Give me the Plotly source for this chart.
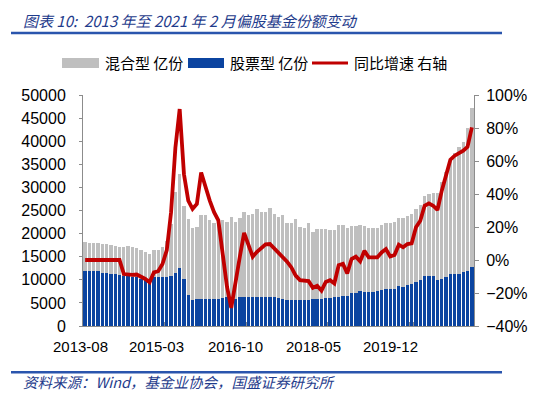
import plotly.graph_objects as go

# ---- data ----
months = []
_y, _m = 2013, 8
for _ in range(91):
    months.append(f"{_y}-{_m:02d}")
    _m += 1
    if _m > 12:
        _m = 1
        _y += 1

tick_labels = ["2013-08", "2015-03", "2016-10", "2018-05", "2019-12"]

# 股票型 份额 (亿份)
stock_shares = [
    11900, 11900, 11850, 11850, 11550, 11550, 11350, 11150, 11000, 10850,
    10850, 10650, 10500, 10250, 9900, 9650, 10600, 10600, 10600, 10700,
    10850, 11450, 12650, 10270, 6650, 5720, 5930, 5930, 5930, 5860,
    5860, 5930, 6070, 6280, 5930, 5930, 6300, 6300, 6300, 6280,
    6330, 6300, 6280, 6280, 6280, 6070, 5930, 5720, 5720, 5720,
    5570, 5570, 5720, 5790, 5930, 5930, 6070, 6150, 6280, 6370,
    6440, 6500, 7150, 7230, 7500, 7360, 7360, 7360, 7520, 7890,
    8030, 8030, 8030, 8600, 8450, 8820, 9180, 9470, 9900, 10920,
    10920, 10850, 10050, 10270, 10700, 11270, 11200, 11350, 11700, 11850,
    12870,
]

# 混合型 份额 (亿份)
mixed_shares = [
    6300, 6150, 6150, 6150, 6200, 6200, 6100, 6100, 6100, 6250,
    6400, 6450, 6300, 6150, 6100, 6000, 5800, 5800, 6500, 7600,
    11250, 17550, 20350, 15730, 16450, 15580, 15570, 18070, 18070, 17040,
    16540, 16770, 16830, 16260, 17560, 16610, 16970, 18400, 17690, 18070,
    18890, 18270, 18290, 19160, 17920, 17550, 18060, 16680, 16470, 17340,
    15880, 15750, 16470, 14580, 14960, 14960, 14820, 14590, 14460, 15450,
    15380, 14820, 14450, 14370, 14390, 14240, 13880, 13880, 13800, 14000,
    14160, 14370, 14510, 14670, 14820, 15020, 15020, 15960, 16250, 17190,
    17620, 17970, 18640, 20930, 22670, 24790, 26290, 27310, 28040, 30930,
    34240,
]

# 同比增速 (%)
yoy_growth = [
    0, 0, 0, 0, 0, 0, 0, 0, 0, -8.5,
    -9, -9, -8.8, -10, -11.5, -13.5, -7.5, -6.8, -2.4, 6,
    29, 68, 91.5, 52, 36, 31, 34, 53, 44, 36,
    29, 24, 4, -16, -29, -12, 2, 16.5, 10, 2,
    5, 7.5, 9.5, 9.7, 7, 4.6, 2, -1, -4.5, -9.5,
    -12.2, -12.5, -12.8, -16.8, -15.6, -18.5, -13.3, -12.2, -14.2, -3.2,
    -2.3, -8.1, 0.6, 2, -0.8, 5.6, 1.6, 1.6, 1.6, 4.6,
    6.6, 2.2, 3, 9.3, 7.7, 9.7, 10.1, 19.8, 23.8, 32.9,
    34.3, 32.9, 30.3, 42, 52.1, 60.8, 63.2, 64.6, 66.2, 68.6,
    80.4,
]
yoy_frac = [v / 100 for v in yoy_growth]

# ---- styling ----
OFF = 8                      # page body margin of the browser
W, H = 550 - OFF, 397 - OFF
# plot area in window pixels: left 83, right 474, top 95, bottom 325.7
L = 83 - OFF
T = 95 - OFF
R = W - (474 - OFF)
B = H - (325.7 - OFF)
PW, PH = W - L - R, H - T - B
GRAY = "#BFBFBF"
BLUE = "#0B44A0"
RED = "#C00000"
AX = "#8C8C8C"
TITLE_BLUE = "#1F3C8C"
RULE_BLUE = "#2A55AD"
CJK = "Noto Sans CJK SC, Liberation Sans, sans-serif"
NUM = "Liberation Sans, Arial, sans-serif"


def px(x):
    """window pixel x -> paper x"""
    return (x - OFF - L) / PW


def py(y):
    """window pixel y -> paper y"""
    return (H - B - (y - OFF)) / PH


fig = go.Figure()
fig.add_trace(go.Bar(x=months, y=stock_shares, name="股票型 亿份",
                     marker=dict(color=BLUE, line=dict(width=0)), showlegend=False))
fig.add_trace(go.Bar(x=months, y=mixed_shares, name="混合型 亿份",
                     marker=dict(color=GRAY, line=dict(width=0)), showlegend=False))
fig.add_trace(go.Scatter(x=months, y=yoy_frac, name="同比增速 右轴", yaxis="y2",
                         mode="lines", line=dict(color=RED, width=3.8),
                         showlegend=False))

annotations = []
shapes = []

# x tick labels (placed where the reference shows them)
label_px = [80, 156.7, 235, 313, 390]
for lab, xx in zip(tick_labels, label_px):
    annotations.append(dict(x=px(xx), y=py(346), xref="paper", yref="paper", text=lab,
                            showarrow=False, xanchor="center", yanchor="middle",
                            font=dict(family=NUM, size=15, color="#000")))

# title & footer
annotations.append(dict(x=px(21), y=py(8.5), xref="paper", yref="paper",
                        text="<i>图表 10:  2013 年至 2021 年 2 月偏股基金份额变动</i>",
                        showarrow=False, xanchor="left", yanchor="top",
                        font=dict(family=CJK, size=15, color=TITLE_BLUE)))
annotations.append(dict(x=px(21), y=py(381), xref="paper", yref="paper",
                        text="<i>资料来源：Wind，基金业协会，国盛证券研究所</i>",
                        showarrow=False, xanchor="left", yanchor="middle",
                        font=dict(family=CJK, size=14.5, color=TITLE_BLUE)))

# horizontal rules
for yy in (33, 372):
    shapes.append(dict(type="line", xref="paper", yref="paper",
                       x0=px(11), x1=px(502), y0=py(yy), y1=py(yy),
                       line=dict(color=RULE_BLUE, width=2.5)))

# manual legend
shapes.append(dict(type="rect", xref="paper", yref="paper", x0=px(62), x1=px(99),
                   y0=py(68), y1=py(58), fillcolor=GRAY, line=dict(width=0)))
shapes.append(dict(type="rect", xref="paper", yref="paper", x0=px(188), x1=px(224),
                   y0=py(68), y1=py(58), fillcolor=BLUE, line=dict(width=0)))
shapes.append(dict(type="line", xref="paper", yref="paper", x0=px(312), x1=px(348),
                   y0=py(63), y1=py(63), line=dict(color=RED, width=3)))
for txt, x0 in (("混合型 亿份", 103), ("股票型 亿份", 228), ("同比增速 右轴", 352)):
    annotations.append(dict(x=px(x0), y=py(63), xref="paper", yref="paper", text=txt,
                            showarrow=False, xanchor="left", yanchor="middle",
                            font=dict(family=CJK, size=15, color="#000")))

fig.update_layout(
    width=W, height=H,
    margin=dict(l=L, r=R, t=T, b=B, autoexpand=False),
    paper_bgcolor="white", plot_bgcolor="white",
    barmode="stack", bargap=0.22,
    showlegend=False,
    xaxis=dict(type="category", tickmode="array", tickvals=tick_labels,
               showticklabels=False, tickson="boundaries", ticks="inside",
               ticklen=4, tickcolor=AX, showline=True, linecolor=AX, linewidth=1,
               showgrid=False, zeroline=False, range=[-0.5, 90.5]),
    yaxis=dict(range=[0, 50000], dtick=5000, tick0=0, showgrid=False, zeroline=False,
               showline=True, linecolor=AX, linewidth=1, ticks="outside", ticklen=3,
               tickcolor=AX, tickformat="d", ticklabelstandoff=10,
               tickfont=dict(family=NUM, size=16, color="#000")),
    yaxis2=dict(overlaying="y", side="right", range=[-0.4, 1.0], dtick=0.2, tick0=0,
                tickformat=".0%", showgrid=False, zeroline=False, showline=True,
                linecolor=AX, linewidth=1, ticks="outside", ticklen=4, tickcolor=AX,
                ticklabelstandoff=4,
                tickfont=dict(family=NUM, size=16, color="#000")),
    annotations=annotations,
    shapes=shapes,
)

fig.write_html("out.html")
